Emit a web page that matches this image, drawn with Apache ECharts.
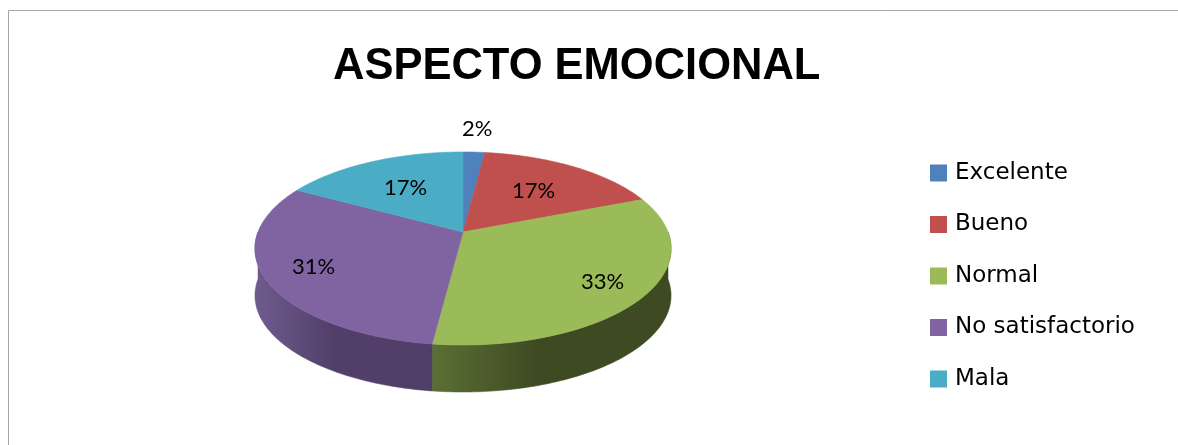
<!DOCTYPE html>
<html>
<head>
<meta charset="utf-8">
<script src="https://cdn.jsdelivr.net/npm/echarts@6/dist/echarts.min.js"></script>
<style>
  html, body { margin: 0; padding: 0; background: #fff; }
  #chart { width: 1178px; height: 445px; }
</style>
</head>
<body>
<div id="chart"></div>
<script>
// data
const chartTitle = 'ASPECTO EMOCIONAL'
const categories = ['Excelente', 'Bueno', 'Normal', 'No satisfactorio', 'Mala']
const values = [2, 17, 33, 31, 17]

// styles
const topColors = ['#4F81BD', '#C0504D', '#9BBB59', '#8064A2', '#4BACC6']
const sideColors = [
  ['#3d6492', '#2b476a'],
  ['#923c3a', '#6a2b2a'],
  ['#5b6f34', '#3d4a22'],
  ['#6f5b8e', '#513f69'],
  ['#3a8497', '#2a606e'],
]

// 3D pie geometry (Excel-like perspective)
const PIE = { cx: 463, cy: 232, a: 205, b: 93.7, persp: 0.171, depth: 47 }

const total = values.reduce((s, v) => s + v, 0)
const starts = []
values.reduce((acc, v, i) => { starts[i] = acc; return acc + v / total * 360 }, 0)

function project(r, deg) {
  const t = deg * Math.PI / 180
  const u = r * Math.sin(t)
  const v = -r * Math.cos(t)
  const w = 1 - PIE.persp * v
  return [PIE.cx + PIE.a * u / w, PIE.cy + PIE.b * v / w]
}

function arc(r, a0, a1) {
  const n = Math.max(2, Math.ceil(a1 - a0) + 1)
  const pts = []
  for (let k = 0; k < n; k++) pts.push(project(r, a0 + (a1 - a0) * k / (n - 1)))
  return pts
}

function renderSlice(params, api) {
  const idx = params.seriesIndex
  const val = api.value(0)
  const start = starts[idx]
  const end = start + val / total * 360
  const children = []

  // visible front rim (90..270 deg clockwise from top)
  const s0 = Math.max(start, 90)
  const s1 = Math.min(end, 270)
  if (s1 > s0) {
    const top = arc(1, s0, s1)
    const bottom = top.map(p => [p[0], p[1] + PIE.depth]).reverse()
    const grad = new echarts.graphic.LinearGradient(0, 0, 1, 0, [
      { offset: 0, color: sideColors[idx][0] },
      { offset: 0.45, color: sideColors[idx][1] },
      { offset: 1, color: sideColors[idx][1] },
    ])
    children.push({
      type: 'polygon',
      z2: 1,
      shape: { points: top.concat(bottom) },
      style: { fill: grad, stroke: grad, lineWidth: 0.5 },
    })
  }

  // top face
  children.push({
    type: 'polygon',
    z2: 10,
    shape: { points: [[PIE.cx, PIE.cy]].concat(arc(1, start, end)) },
    style: { fill: topColors[idx], stroke: topColors[idx], lineWidth: 0.6 },
  })

  // label
  const pct = Math.round(val / total * 100)
  const mid = (start + end) / 2
  const vMid = -Math.cos(mid * Math.PI / 180)
  const r = pct < 5 ? 1.35 : 0.71 + 0.13 * vMid
  const pos = project(r, mid)
  children.push({
    type: 'text',
    z2: 20,
    x: pos[0],
    y: pos[1],
    style: {
      text: pct + '%',
      fill: '#000',
      fontFamily: 'Lato',
      fontSize: 22,
      align: 'center',
      verticalAlign: 'middle',
    },
  })

  return { type: 'group', children }
}

const chart = echarts.init(document.getElementById('chart'), null, { renderer: 'canvas' })

chart.setOption({
  backgroundColor: '#fff',
  animation: false,
  title: {
    text: chartTitle,
    left: 333,
    top: 45,
    padding: 0,
    textStyle: {
      fontFamily: 'Liberation Sans',
      fontWeight: 'bold',
      fontSize: 43.5,
      color: '#000',
    },
  },
  legend: {
    data: categories,
    orient: 'vertical',
    left: 930,
    top: 161.5,
    padding: 0,
    icon: 'rect',
    itemWidth: 17,
    itemHeight: 17,
    itemGap: 28.5,
    selectedMode: false,
    textStyle: {
      fontFamily: 'DejaVu Sans',
      fontSize: 23,
      color: '#000',
      padding: [0, 0, 0, 3],
    },
  },
  graphic: [
    { type: 'line', shape: { x1: 8.5, y1: 10.5, x2: 1178, y2: 10.5 }, style: { stroke: '#a6a6a6', lineWidth: 1 } },
    { type: 'line', shape: { x1: 8.5, y1: 10.5, x2: 8.5, y2: 445 }, style: { stroke: '#a6a6a6', lineWidth: 1 } },
  ],
  series: categories.map((name, i) => ({
    type: 'custom',
    name,
    coordinateSystem: 'none',
    silent: true,
    itemStyle: { color: topColors[i] },
    renderItem: renderSlice,
    data: [[values[i]]],
  })),
})
</script>
</body>
</html>
